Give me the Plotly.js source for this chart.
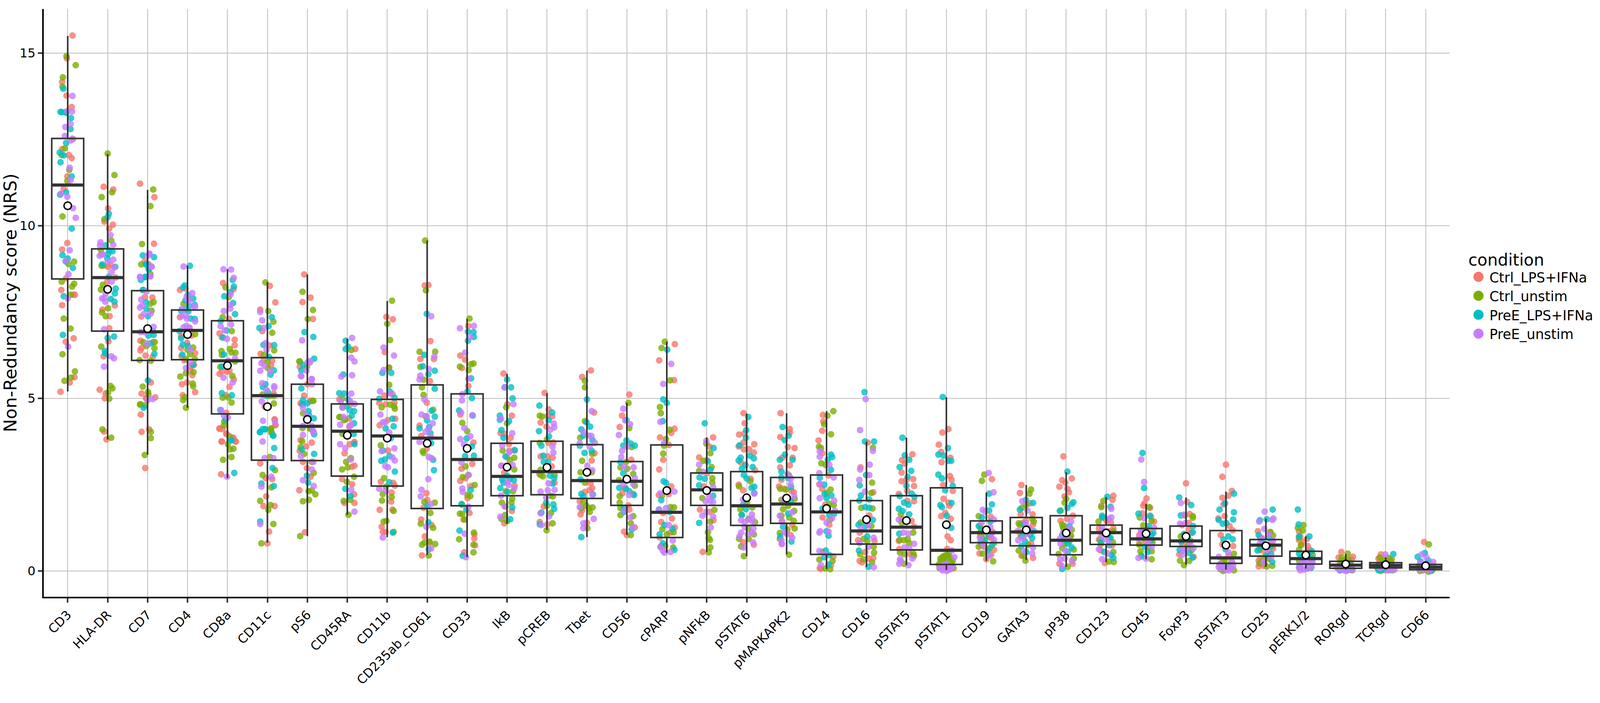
<!DOCTYPE html>
<html><head><meta charset="utf-8"><script src="https://cdn.plot.ly/plotly-3.0.1.min.js"></script>
<style>html,body{margin:0;padding:0;background:#fff;overflow:hidden}</style></head><body><div id="c" style="width:4096px;height:1800px"></div>
<script>
const markers=["CD3","HLA-DR","CD7","CD4","CD8a","CD11c","pS6","CD45RA","CD11b","CD235ab_CD61","CD33","IkB","pCREB","Tbet","CD56","cPARP","pNFkB","pSTAT6","pMAPKAPK2","CD14","CD16","pSTAT5","pSTAT1","CD19","GATA3","pP38","CD123","CD45","FoxP3","pSTAT3","CD25","pERK1/2","RORgd","TCRgd","CD66"];
const q3=[12.53,9.33,8.12,7.56,7.25,6.18,5.41,4.84,4.97,5.39,5.13,3.70,3.76,3.66,3.17,3.65,2.84,2.88,2.71,2.78,2.04,2.18,2.41,1.45,1.55,1.60,1.33,1.23,1.30,1.17,0.91,0.57,0.28,0.24,0.19];
const med=[11.18,8.50,6.93,6.97,6.09,5.08,4.19,4.05,3.91,3.85,3.23,2.74,2.88,2.62,2.60,1.70,2.35,1.89,1.94,1.71,1.16,1.27,0.60,1.11,1.13,0.89,1.11,0.93,0.87,0.38,0.75,0.36,0.17,0.16,0.11];
const q1=[8.46,6.95,6.10,6.12,4.55,3.21,3.20,2.75,2.46,1.81,1.89,2.18,2.21,2.10,1.90,0.97,1.90,1.32,1.38,0.48,0.78,0.61,0.19,0.82,0.73,0.47,0.77,0.75,0.71,0.22,0.43,0.20,0.08,0.09,0.04];
const whiskerHigh=[15.5,12.08,11.04,8.84,8.74,8.37,8.59,6.73,7.82,9.57,7.30,5.71,5.15,5.80,4.87,6.64,3.87,4.56,4.57,4.63,3.74,3.86,5.03,2.27,2.49,2.86,2.14,1.94,2.13,2.30,1.52,1.00,0.49,0.39,0.28];
const whiskerLow=[5.2,3.81,3.37,4.73,2.69,0.82,1.01,1.63,0.98,0.46,0.40,1.37,1.19,0.98,1.04,0.53,0.55,0.43,0.48,0.06,0.12,0.17,0.03,0.29,0.32,0.12,0.26,0.34,0.18,0.04,0.12,0.07,0.04,0.04,0.02];
const means=[10.58,8.16,7.02,6.85,5.95,4.76,4.39,3.93,3.85,3.70,3.55,3.01,3.00,2.86,2.66,2.33,2.33,2.12,2.11,1.81,1.49,1.46,1.34,1.19,1.19,1.10,1.10,1.08,1.00,0.75,0.73,0.46,0.20,0.18,0.15];
const conditions=["Ctrl_LPS+IFNa","Ctrl_unstim","PreE_LPS+IFNa","PreE_unstim"];
const colors=["#F8766D","#7CAE00","#00BFC4","#C77CFF"];
// each marker: flat pairs of (jitter in % of a category width, NRS value)
const ctrlLps=[
[12,15.51,-2,14.85,-14,14.17,-3,13.77,10,13.44,12,12.52,-14,12.22,3,12.05,10,11.96,-1,11.43,-10,11.07,-1,9.5,-14,9.31,-4,8.48,-16,8.14,14,8.0,18,8.0,-14,7.7,15,6.74,-5,6.64,17,5.61,5,5.46,-18,5.19],
[-10,11.13,14,11.05,1,10.5,-8,10.12,13,10.03,4,9.92,-15,9.17,7,8.87,1,8.81,20,8.5,-1,8.38,18,7.69,-13,7.57,5,7.38,4,7.03,2,6.65,-10,6.22,-20,5.25,-5,5.14,-7,5.0,-9,4.04,-3,3.81],
[-19,11.22,17,10.83,16,9.48,-7,8.97,2,8.89,-7,7.93,12,7.92,-16,7.37,-18,6.67,14,6.63,-15,6.46,-18,6.39,13,6.2,-5,6.24,8,5.46,-15,5.14,-3,5.01,19,5.03,-4,5.0,-17,4.53,-15,4.03,4,4.1,-6,2.98],
[-5,8.18,-19,8.14,-19,7.35,4,7.03,-16,6.8,10,6.82,-1,6.61,-16,6.46,19,6.31,-15,6.22,-8,6.1,16,5.97,8,5.92,7,5.8,12,5.67,-1,5.46,-14,5.41,-12,5.09,19,5.18],
[-11,8.34,15,8.16,4,7.3,-20,6.88,-14,6.77,18,6.7,18,6.54,-1,5.77,5,5.8,-20,5.71,-14,5.78,16,5.55,5,5.33,-4,5.09,-3,4.58,-20,4.12,-12,4.11,-2,3.97,14,3.86,-14,3.75,21,3.75,-20,4.13,-3,3.97,15,3.85,20,3.75,-15,3.75,-16,2.8],
[6,8.26,20,7.78,-18,7.57,-13,6.95,6,6.53,-17,6.29,-10,6.09,12,6.09,9,5.95,16,5.14,-7,4.76,18,4.39,20,4.22,18,4.39,20,4.23,-18,3.12,-4,2.69,12,2.66,-3,2.16,-10,1.88,18,1.88,4,1.14,0,0.8],
[-8,8.59,8,7.92,-12,7.79,14,7.3,-19,5.92,0,5.41,-8,5.08,8,4.92,-14,4.84,-17,4.86,8,4.93,-17,3.79,-3,3.61,11,3.72,-11,3.16,-1,2.98,8,2.73,-20,2.34,-6,1.12,-19,3.48],
[20,6.43,-20,4.97,9,4.84,5,4.42,5,4.18,17,3.71,6,3.67,18,3.74,-7,3.41,18,3.05,12,3.02,-13,2.66,17,2.22,-7,1.97,18,1.97,12,2.51],
[-2,7.36,14,7.29,-6,6.34,5,5.89,13,5.13,-7,5.08,-20,4.87,-4,4.83,18,4.88,20,4.41,1,4.37,-19,4.22,2,3.49,-16,2.58,15,2.55,19,2.47,11,2.27,10,2.01,-19,1.77,13,1.78,-14,1.28,-4,1.13,-11,1.13],
[-6,8.27,3,8.28,8,6.66,-17,6.14,17,6.14,7,5.5,-1,4.88,-19,4.21,-15,3.91,-1,3.55,-2,2.25,0,2.06,-9,1.83,-15,1.49,11,1.33,-6,1.0,6,0.82,-13,0.45],
[3,7.1,-17,6.24,-5,6.12,-13,5.88,3,5.36,-17,4.53,16,3.72,13,3.1,-14,2.96,-17,2.61,-4,2.69,9,2.46,1,2.11,6,1.68,-9,1.49,18,1.06,18,0.94,20,0.74,-7,0.54],
[-9,5.72,1,4.83,12,4.5,-16,3.99,-7,3.97,9,3.86,5,3.68,6,3.48,19,3.49,0,3.3,-14,3.05,-7,2.85,19,2.47,-7,1.38,12,1.74],
[-6,5.16,4,4.68,2,4.5,13,4.48,-16,4.3,-1,4.18,16,3.72,4,3.71,-16,3.32,2,3.32,14,3.28,12,3.03,-19,2.81,19,2.56,-8,1.87,1,1.35,-18,1.42],
[10,5.81,-12,5.62,18,4.59,12,3.2,19,3.41,9,2.54,13,2.4,-5,2.29,7,2.34,-16,1.64,-18,2.02,0,1.4,-12,1.76],
[6,5.11,-12,4.5,-18,4.17,11,3.22,-11,2.25,16,2.23,4,1.9,6,1.78,20,1.26,-7,1.14,0,1.04,-5,2.4],
[20,6.57,-19,6.1,18,5.53,19,4.12,11,4.0,-17,3.87,5,3.65,-9,3.22,-19,2.94,11,2.45,-20,2.2,5,2.23,-9,1.68,13,1.52,-14,1.42,20,1.26,-18,0.97,9,1.11],
[16,3.87,7,3.6,-19,3.29,0,3.21,1,2.83,-7,2.45,2,2.29,-17,1.78,7,1.71,17,1.47,-10,0.55],
[-8,4.57,-5,4.28,-19,3.95,-6,3.98,-8,3.72,19,3.67,-20,3.61,-7,3.52,6,3.53,18,3.43,-14,3.14,21,2.92,10,2.67,-20,2.5,-9,2.34,-9,0.83,18,0.76],
[-15,4.57,8,4.11,8,4.01,-16,3.88,20,3.56,3,3.59,15,3.28,-11,3.28,8,3.06,-16,3.0,-13,2.64,-19,2.45,-7,2.38,18,2.28,12,2.32,14,1.34,-12,1.45,10,1.04,-12,0.78],
[-9,4.52,-8,4.33,-11,4.06,-20,3.78,-11,3.41,5,2.77,-18,2.51,-11,2.38,-3,1.92,-10,1.55,7,1.34,17,0.42,-17,0.08,-14,0.06,11,0.17],
[3,3.72,-15,3.0,17,2.28,7,1.61,-17,1.11,-21,0.89,20,0.87,-3,0.55,17,0.38,-17,0.29,-11,0.25,5,0.36],
[15,3.38,-11,3.21,-4,3.11,-12,2.85,-12,2.6,0,2.64,17,2.66,19,2.46,2,2.32,-19,2.23,2,2.03,19,2.02,13,1.45,-12,1.51,19,1.28,-19,0.87,-18,0.63,9,0.49],
[5,4.11,-10,4.01,-19,3.66,-13,3.45,10,3.28,-12,3.15,9,2.75,13,2.64,-8,2.49,16,2.32,-7,2.09,5,1.98,8,1.89,-3,1.68,-13,1.59,11,1.51,3,1.0,11,0.89,2,0.64],
[14,2.66,11,1.57,-16,1.1,16,1.13,-16,0.98,12,0.96,-17,0.51,-6,0.7,19,0.61,12,0.47,0,0.34,-8,0.85,5,1.0,-12,0.75],
[-12,2.49,-16,2.26,9,1.96,-14,1.64,16,1.64,-1,1.45,17,1.34,-16,1.13,-12,0.44,17,0.38,-3,1.08,6,1.25,-8,1.4,12,0.8],
[-7,3.32,14,2.68,-10,2.63,-2,2.56,-17,2.44,3,2.38,7,2.28,-4,2.16,17,1.6,2,1.51,-14,1.45,16,0.21,-17,0.21,-5,1.3,10,1.0],
[18,2.18,16,2.06,-12,1.89,1,1.45,-18,1.23,18,1.23,-18,0.91,15,0.74,-3,0.23,-8,1.55,6,1.15,12,1.4,-14,0.6],
[1,2.1,-4,1.96,-7,1.89,10,1.83,-9,1.67,12,1.57,20,1.43,-17,1.04,-2,0.83,-17,0.78,5,1.2,-10,1.1,14,0.9],
[0,2.54,3,2.0,9,1.65,7,1.39,-10,1.33,7,1.2,-10,0.8,-17,0.48,19,0.41,-4,0.95,5,0.7,14,1.1],
[0,3.08,-9,2.73,15,2.32,6,2.18,-9,2.12,-6,1.93,-3,1.59,-19,1.52,9,1.3,17,1.18,-13,1.04,-9,0.77,18,0.72,-5,0.3,8,0.45,-14,0.2],
[-20,1.15,11,1.11,-14,0.96,18,0.65,-14,0.37,-18,0.13,-6,0.15,6,0.37,-8,0.8,5,0.55,-18,0.3,14,0.85,-3,0.2,-12,0.6],
[-17,1.15,3,0.93,-12,0.76,5,0.72,10,0.61,-14,1.0,-6,0.85,-17,0.9,3,0.55,13,0.3,-10,0.35],
[-11,0.55,18,0.41,-18,0.39,15,0.33,-15,0.2,5,0.28,12,0.22,-6,0.3,16,0.05,-12,0.03,8,0.15,-4,0.1],
[-12,0.48,-18,0.36,10,0.33,0,0.02,-15,0.28,-6,0.38,4,0.2,13,0.27,-10,0.08,8,0.05,17,0.1,-18,0.18],
[-4,0.84,19,0.15,-8,0.09,2,0.18,-14,0.12,11,0.04,-6,0.02,15,0.08,-17,0.15,7,0.2]];
const ctrlUnstim=[
[-3,14.91,20,14.65,-12,14.3,-13,14.03,-6,13.29,-7,12.24,-15,12.05,4,11.62,-1,11.3,-13,10.27,16,8.96,2,8.89,-15,8.38,16,8.32,11,8.24,7,8.0,-10,7.31,7,7.02,-13,6.28,18,5.78,8,5.6,-8,5.51],
[0,12.09,17,11.47,11,10.97,-15,10.83,-8,10.19,9,9.57,-17,9.3,-15,8.84,-10,8.85,-12,8.29,-17,8.15,1,7.61,-14,7.49,-5,7.38,-16,6.5,7,5.36,12,5.29,1,5.17,4,4.99,-13,4.1,9,3.86],
[14,11.05,7,10.57,-14,9.47,-16,8.88,7,8.6,7,7.74,15,7.79,10,7.54,-11,6.63,-3,6.52,18,6.63,17,6.45,-20,6.11,8,6.09,-12,5.34,1,5.19,2,5.12,-19,4.82,-8,4.8,-18,4.83,8,4.03,8,3.85,-7,3.36],
[-10,7.74,19,6.86,14,6.47,0,6.41,7,6.28,-4,6.14,18,6.14,-4,5.73,15,5.76,-18,5.63,13,5.43,14,5.35,-7,5.03,-11,4.95,-4,4.73],
[-5,8.22,3,7.93,-12,7.35,11,6.95,-15,6.37,6,6.43,10,6.33,20,6.32,-14,6.26,19,6.07,-18,5.91,12,5.65,2,5.03,-12,5.02,10,4.88,-8,4.33,-9,4.22,5,3.9,1,3.67,15,3.54,7,3.52,10,3.3,-11,3.22],
[-5,8.36,2,7.53,15,7.22,12,6.9,17,6.39,-9,6.26,0,6.05,1,5.88,-12,5.11,6,5.07,16,5.07,16,4.85,9,4.13,10,4.01,9,4.1,11,4.0,6,3.3,19,2.92,-12,2.78,10,2.42,-18,2.03,8,1.91,2,1.77,15,1.36,-15,0.8],
[-12,8.09,14,7.56,1,7.3,-20,6.07,-1,5.92,14,4.93,-12,4.14,7,4.12,-19,6.07,15,4.93,-11,4.57,8,4.13,-13,3.76,-17,3.59,-8,3.39,11,3.16,16,2.84,3,2.31,11,2.33,20,2.22,-11,2.02,4,2.06,-18,1.01],
[10,6.4,-13,4.99,-12,4.75,-17,4.46,-8,4.37,-12,3.97,-20,4.46,-5,4.39,-3,3.16,-13,2.94,1,3.0,9,3.27,17,2.73,-1,2.58,-9,2.03,8,2.06,3,1.63],
[12,7.83,0,7.16,7,6.69,4,5.89,5,5.39,-14,4.74,7,4.82,17,4.77,19,4.7,-16,3.64,-8,2.69,-3,2.44,-11,2.23,-13,2.04,11,2.14,16,1.74,-9,1.43,-2,1.45,16,1.13],
[-5,9.57,-3,8.13,-19,6.35,20,6.35,-17,5.91,-9,5.54,-13,5.32,-9,5.1,15,4.67,-4,4.48,-9,3.42,-11,3.47,-7,2.0,19,1.98,8,1.68,-16,1.37,15,1.25,6,0.85,-7,0.82,-13,0.76,20,0.78,4,0.45],
[6,7.31,10,5.99,16,6.01,4,5.82,-18,5.92,-12,4.29,0,4.05,-4,3.03,-11,2.72,3,2.78,19,2.49,1,2.2,8,2.17,-13,1.92,-18,1.66,-12,1.65,-6,1.49,17,1.11,-20,0.92,16,0.76,16,0.54],
[-2,4.74,0,4.28,-11,3.49,18,3.28,7,3.21,18,2.94,-3,2.31,15,2.31,-13,1.98,13,2.1,11,1.98,-4,1.87,-5,1.62,-14,1.51,0,1.44],
[-18,4.5,-12,4.47,0,3.81,-18,3.71,-16,2.93,-16,2.78,-10,2.74,19,2.78,8,2.18,15,2.16,0,1.89,10,1.68,14,1.38,-1,1.18],
[-5,5.51,-5,5.32,-5,4.34,-17,3.86,13,3.39,-12,3.19,-16,2.86,12,2.86,-5,2.56,-9,2.0,-14,1.83,14,1.84,5,1.82,-1,1.89,7,1.71,1,1.24],
[4,4.87,6,4.14,12,3.59,-2,3.16,-16,3.0,1,2.96,16,2.81,-20,2.63,20,2.47,-18,2.17,-18,1.98,-16,1.82,-16,1.62,16,1.59,10,1.38,10,1.04],
[-5,6.64,-13,6.46,8,5.52,-17,4.75,-15,4.57,7,4.09,-2,3.82,-7,3.63,-9,3.4,-12,2.19,9,1.85,18,1.84,-11,1.21,17,1.12,0,1.06,-15,0.71,16,0.68,-4,0.73],
[-1,3.69,9,3.41,-9,3.19,12,3.01,-19,2.9,14,2.69,14,2.56,-11,2.11,19,1.77,9,1.43,3,1.12,5,0.95,8,0.9,9,0.68,5,0.54],
[-19,2.45,9,2.6,1,1.98,14,1.84,-16,1.79,-13,1.63,5,1.51,21,1.41,5,1.21,18,1.06,-19,0.93,5,0.93,-14,0.71,-7,0.43],
[6,2.77,-16,2.38,-2,2.36,20,2.09,-13,2.06,4,1.89,-9,1.79,19,1.74,-13,1.6,7,1.55,18,1.45,20,1.23,2,1.2,-17,1.1,-17,0.93,6,0.47],
[17,4.63,2,4.5,-6,4.25,11,3.96,-19,3.6,-14,3.56,-13,3.12,-2,3.07,10,2.36,0,2.26,7,1.94,18,1.91,9,1.49,-10,0.55,-18,0.33,15,0.29,-3,0.07,9,0.05],
[16,3.57,14,2.56,12,2.26,-13,1.83,15,1.81,-15,1.4,12,1.3,-7,0.93,2,0.87,18,0.7,19,0.53,-16,0.49,-7,0.34,14,0.25],
[-14,1.64,-12,1.4,17,1.11,-17,0.9,-6,0.89,3,0.93,7,0.81,-16,0.53,17,0.51,19,0.44,-6,0.49,-6,0.21],
[-5,0.44,5,0.42,12,0.36,-15,0.36,1,0.47,16,0.29,-19,0.19,-17,0.08,18,0.08,-7,0.32,9,0.25,1,0.17,-10,0.4,6,0.5,13,0.22,-3,0.28,-14,0.27],
[-5,2.79,-11,2.61,-19,1.59,-16,1.3,-14,1.23,-10,0.94,-19,0.7,-9,0.5,8,0.66,19,0.81,17,0.28,4,1.08,-6,1.15,-12,1.05],
[12,2.36,8,2.24,-11,1.83,0,1.92,15,1.51,19,1.43,-19,1.38,-16,1.33,9,1.08,-19,0.59,-8,0.44,-2,0.3,5,0.75,-14,1.0],
[0,2.09,-4,1.98,-14,1.75,-10,1.34,-8,1.27,14,1.19,12,1.02,-4,0.79,19,0.62,-19,0.49,19,0.36,4,0.12,-10,0.66,-6,1.2,8,0.85],
[-7,2.03,-12,1.85,-19,1.43,18,1.15,-14,0.77,17,0.83,18,0.55,7,0.27,19,0.26,-10,1.1,8,0.95,-15,0.9],
[8,1.85,-16,1.55,14,1.45,-7,1.32,16,0.83,-17,0.76,14,0.57,-14,0.57,14,0.34,-8,0.95,6,0.7,-12,0.45],
[-3,1.61,17,1.59,-13,1.0,12,0.87,-15,0.3,8,0.29,-5,0.17,17,1.54,-6,1.05,5,0.75,14,0.6],
[20,0.5,-3,0.33,-16,0.17,20,0.02,-7,0.0,14,0.28,4,0.17,-10,0.25,10,0.1,-14,0.05,3,0.06],
[11,1.13,18,1.03,-16,0.63,-1,0.46,-16,0.22,2,0.13,16,0.15,-12,0.95,8,0.35,-8,0.3,14,0.7],
[-6,1.33,-20,1.25,-8,1.17,-17,0.96,-17,0.61,17,0.46,-17,0.3,-12,0.75,6,0.4,-14,0.1],
[5,0.5,-10,0.39,7,0.33,-15,0.07,-5,0.25,10,0.2,-12,0.3,14,0.1,2,0.05,-8,0.13,16,0.02],
[-15,0.39,15,0.33,-12,0.0,-22,0.11,-5,0.3,6,0.38,-10,0.2,12,0.15,-18,0.05,2,0.12,17,0.02],
[8,0.77,-14,0.0,7,-0.02,-5,0.15,3,0.05,12,0.11,-10,0.08,-16,0.06,17,0.03]];
const preeLps=[
[-11,13.97,-18,13.3,-15,13.29,-3,13.27,8,13.12,7,12.8,-4,12.4,-20,12.12,-10,12.04,-18,11.84,10,11.43,-4,10.97,-19,10.9,10,9.92,-13,9.15,0,9.05,-5,8.97,13,8.78,-10,7.96,-12,6.84],
[3,10.35,0,10.25,-5,9.43,4,9.29,12,9.26,1,9.18,-1,9.06,-14,8.88,19,8.81,3,8.52,20,8.18,18,8.04,8,7.88,17,7.8,0,6.75,16,6.79,-7,6.37,-6,6.3],
[-12,9.14,16,9.09,-3,8.89,3,8.75,-6,8.52,-17,8.43,-11,8.14,-4,8.88,3,8.74,-6,8.51,-12,8.14,-4,7.78,-3,7.59,1,7.38,13,6.95,2,6.82,15,6.84,7,6.59,17,6.29,1,5.52,-10,4.73],
[6,8.84,-7,8.27,-11,8.21,1,8.0,14,7.89,-5,7.84,18,7.71,4,7.67,-16,7.54,-5,7.57,2,7.52,8,7.31,18,7.3,-20,6.95,-16,6.74,-12,6.56,1,6.52,-13,6.27,14,5.97],
[13,8.43,16,8.24,7,8.08,-8,7.96,14,7.76,19,7.44,-17,7.24,-2,6.97,-11,6.76,-9,6.27,-14,5.92,-14,5.15,11,5.09,-18,4.66,-5,4.39,10,3.79,10,3.79,17,2.84],
[11,7.35,3,7.09,-20,7.04,-10,6.55,17,6.54,4,6.2,16,5.81,8,5.69,-5,5.41,-11,5.33,1,5.18,-2,5.07,-12,4.11,-5,4.1,-19,4.02,14,3.92,-18,4.03,-6,4.11,15,3.92,17,3.56,13,2.98,16,2.46,-15,2.53,-18,1.43],
[-7,6.92,15,6.78,17,6.15,-10,5.97,-15,5.81,-15,5.29,-11,4.95,-12,4.82,0,4.86,3,4.63,4,4.52,16,4.42,15,4.03,17,3.96,17,3.39,-14,3.52,-1,2.76,2,2.56],
[-4,6.67,-4,6.43,2,6.5,-10,5.69,-20,5.15,-8,5.14,2,4.97,-2,4.77,6,4.66,17,4.63,11,4.5,17,4.28,16,3.97,18,3.67,-5,2.38,8,2.17],
[10,5.74,-12,5.74,6,5.2,-20,4.99,18,5.02,13,4.41,16,4.19,-4,4.13,9,3.85,-11,3.49,6,3.33,-15,3.19,-6,3.23,19,2.88,5,2.57,14,1.11],
[-1,7.45,-7,6.26,-11,5.93,3,5.7,19,5.8,19,5.28,11,4.64,19,4.47,0,4.36,-19,4.13,5,4.17,8,3.99,10,3.7,15,3.22,17,2.92,1,1.89,3,1.41,4,0.63],
[2,6.93,16,6.92,17,6.78,2,6.67,10,5.58,1,5.2,12,5.01,-20,4.65,14,4.5,-1,3.84,12,3.61,-5,3.33,17,3.34,9,2.35,-14,1.94,-2,1.78,-19,1.17,-11,0.44],
[0,5.55,-6,5.32,10,5.32,14,5.0,-18,4.5,-18,4.38,5,4.34,-14,4.08,-9,3.86,19,3.5,-4,3.32,0,2.76,-12,2.65,7,2.67,17,2.63,-9,2.56,-17,2.4,1,2.29,13,1.84,8,1.5],
[-19,4.79,13,4.59,4,4.37,-20,4.05,5,3.9,-14,3.63,-9,3.34,-8,3.16,3,3.16,8,2.76,18,2.69,14,2.53,-2,1.98,16,1.93,18,1.8,-14,1.69,-18,1.35],
[0,4.97,-1,4.31,8,4.18,-14,4.1,-9,3.92,14,3.79,-18,3.63,12,3.48,-6,3.42,-16,2.65,-14,2.23,15,2.22,-9,2.16,-14,0.98],
[-1,4.37,-1,3.78,-9,3.63,10,3.69,20,3.63,-16,3.16,-9,2.83,-19,2.41,-2,2.38,6,2.31,18,2.2,-8,1.82,-7,1.71,12,1.2],
[1,6.41,-9,4.97,0,4.87,-10,4.34,-8,2.6,-2,2.55,-14,2.05,-19,1.78,7,1.71,-6,1.33,14,1.22,-18,1.06,-10,0.8,19,0.61],
[-5,4.28,17,3.56,3,3.17,9,2.93,-18,2.71,-5,2.67,-19,2.48,16,2.18,-19,1.39],
[4,4.46,-1,4.08,-2,3.86,-18,3.64,-15,3.28,-20,3.2,8,3.34,18,3.26,-3,3.07,15,3.01,-12,2.96,-7,2.78,0,2.68,19,2.44,12,2.41,19,2.26,-9,1.92,-2,1.79,-12,1.62],
[-10,4.17,5,3.92,-5,3.79,-17,3.22,-4,3.37,15,3.22,-13,2.88,-13,2.71,4,2.69,11,2.43,10,2.02,4,1.66,-9,1.28,12,0.85,-16,1.0],
[11,3.37,14,3.3,3,3.22,11,2.93,-17,2.7,-6,2.5,-5,2.23,12,2.19,0,2.11,-10,1.81,7,1.62,19,1.66,0,1.15,5,1.02,-2,0.59,7,0.46,-6,0.4,5,0.19],
[-5,5.18,-4,3.75,19,3.75,-1,2.78,-17,2.48,-14,2.19,-18,2.04,7,2.07,-3,1.85,7,1.83,16,1.48,-20,1.34,-3,1.3,2,1.0,-19,0.59,5,0.12],
[-10,3.86,-4,3.35,7,3.22,-17,3.01,12,2.9,3,2.73,0,2.47,-17,2.17,13,2.24,20,2.15,-6,1.98,5,1.92,-19,1.8,-10,1.74,7,1.64,-18,1.08],
[-9,5.04,4,3.56,-20,3.37,-7,3.34,5,3.19,12,3.19,-20,2.79,-11,2.68,16,2.47,-3,2.34,-15,1.91,-11,1.85,13,1.97,1,1.6,12,1.25],
[7,2.24,14,1.93,7,1.75,-11,1.55,-19,1.3,10,1.43,-10,1.15,8,1.05,-3,0.9,14,0.75,-14,0.85,4,0.6],
[-1,2.06,17,1.97,-16,1.78,19,1.15,-10,1.0,15,0.95,-3,0.85,-12,0.72,0,0.55,-6,1.35,6,1.2,10,1.05],
[3,2.88,18,1.99,14,1.94,-16,1.74,3,1.83,-10,1.04,4,0.79,14,0.68,4,0.55,-10,0.06,8,1.3,-6,0.9],
[3,2.15,11,1.86,-10,1.6,-10,1.55,11,0.96,-5,0.55,13,0.46,18,0.38,-6,1.15,4,1.05,-12,0.85,8,0.75],
[-9,3.42,-5,2.4,-19,1.66,10,1.6,7,1.3,18,1.1,4,0.55,-11,0.42,-8,1.15,12,0.9,-3,0.7,14,1.05],
[-17,2.13,13,1.91,-13,1.61,18,1.3,17,1.12,-16,0.61,8,0.52,17,0.39,-5,1.07,-12,0.85,5,0.95],
[20,2.24,-2,1.96,-16,1.78,20,1.7,18,1.49,-18,1.48,-8,1.37,1,1.39,6,1.0,17,0.92,-6,0.91,-1,0.63,-12,0.15,8,0.12,-4,0.05],
[17,1.78,-15,1.47,2,1.5,-18,1.04,8,0.96,13,0.5,16,0.26,-21,0.59,-6,0.75,10,0.72,-10,0.9,3,0.45,-14,0.7],
[-20,1.78,-18,1.35,9,1.0,-17,1.0,-17,0.5,15,0.57,13,0.09,3,0.07,-12,0.4,6,0.45,-6,0.3,17,0.35,-16,0.12],
[-15,0.02,-2,0.09,12,0.11,-8,0.05,5,0.03,15,0.05,-12,0.15,3,0.14,9,0.2],
[19,0.49,-7,0.04,-17,0.15,-12,0.07,4,0.1,10,0.03,-3,0.22,15,0.18,-18,0.02],
[-2,0.52,-20,0.41,-13,0.28,7,0.3,14,0.0,-8,0.15,4,0.12,-16,0.1,12,0.18,2,0.22]];
const preeUnstim=[
[12,13.76,11,13.31,-1,13.32,7,12.95,-6,12.86,-7,12.6,13,12.51,7,12.47,5,11.68,7,11.32,-1,10.84,-17,10.93,13,10.51,20,10.23,5,9.29,-5,8.98,2,8.6,0,7.9,1,6.5],
[7,9.73,-18,9.52,-19,9.43,14,9.45,-20,9.13,-12,9.17,14,9.02,0,8.95,16,8.79,10,8.65,10,8.38,-5,8.04,-14,7.89,-9,7.91,-6,7.8,-9,7.0,9,6.22,16,6.16,-9,5.92],
[4,9.18,10,8.82,-19,8.52,6,8.55,5,9.19,0,9.13,10,8.81,-19,8.51,7,8.53,-3,8.1,-16,7.86,-13,7.69,-19,7.63,-9,7.44,8,7.46,15,7.07,-17,6.92,-6,6.91,-1,6.59,0,4.95,13,4.98],
[-10,8.82,12,8.05,-2,7.95,5,7.84,15,7.68,19,7.65,-15,7.39,-4,7.4,-2,7.31,19,7.23,-10,7.06,-3,7.1,5,7.05,7,6.42,-4,5.88,8,6.05,-14,7.59,0,7.86],
[-10,8.74,9,8.73,16,8.49,8,8.01,7,7.71,7,7.6,-9,7.53,-17,7.09,9,7.14,-7,6.97,-1,6.72,19,6.16,2,6.09,-10,5.6,13,5.46,-16,4.66,-9,4.5,1,4.45,-1,2.73],
[-18,7.5,-13,7.26,-9,7.04,-4,6.6,-2,6.41,-15,6.02,-7,5.94,-18,5.8,8,5.78,-13,5.44,17,5.35,17,5.31,-2,5.24,-14,4.91,-11,4.35,19,4.31,-12,3.75,10,2.73,-15,2.44,-7,3.27,15,3.27,-18,1.36],
[-13,6.68,1,6.05,7,6.04,-2,5.8,-15,5.64,11,5.56,12,5.41,-11,4.73,-3,4.52,-11,4.2,11,4.2,15,4.05,-11,3.94,5,6.08,-16,5.65,11,5.56,15,4.03,-16,3.32,15,3.16,11,2.94,-11,2.63,16,2.46],
[12,6.75,10,6.18,18,6.07,-15,5.63,12,5.67,10,5.14,-16,4.92,7,4.92,18,4.84,-12,4.73,-9,4.46,-18,4.24,7,4.2,10,4.24,-5,3.56,9,3.23,10,2.35,18,1.72,-18,3.67],
[-9,6.47,17,6.24,-9,5.82,-18,5.2,7,5.14,-17,4.53,-5,4.31,-11,4.31,5,4.01,-14,3.47,18,3.55,13,3.29,19,3.2,-5,3.04,2,3.0,-20,2.38,-4,2.32,-11,0.97],
[10,7.38,18,6.21,4,5.85,-17,5.66,-19,5.55,-7,4.97,-14,4.53,-1,4.48,14,4.28,3,4.11,-4,4.03,10,3.88,-19,3.74,4,3.3,11,3.27,3,2.66,-14,2.35,-16,2.16,10,1.94,-2,1.28,10,0.65],
[-18,7.03,17,7.1,8,6.77,-5,6.32,3,5.57,-12,5.12,-13,4.94,-15,4.59,13,4.51,-7,4.14,8,3.9,-17,3.82,-8,3.67,-14,3.15,4,2.78,-12,2.39,-11,2.29,3,1.86,-6,1.08,-3,0.4],
[-6,5.32,16,4.83,-15,4.41,13,3.99,-12,3.63,6,3.44,-14,3.05,14,3.07,1,2.58,4,2.49,18,2.39,-15,2.18,-6,1.87,-17,1.57],
[17,4.27,18,4.16,8,4.09,14,3.6,16,3.43,4,2.54,-16,2.3,19,2.35,2,2.34,-2,2.13,-16,1.67,5,1.58,-14,1.33],
[12,4.63,-9,4.03,5,3.92,11,3.91,20,3.71,-18,3.7,7,3.61,1,3.05,13,2.92,-18,1.85,14,2.2,17,1.51,-9,1.38,-9,1.24],
[-9,4.7,-4,4.36,8,4.25,-20,3.94,0,3.6,-12,3.48,-14,3.3,17,3.0,-7,3.03,20,2.69,-9,2.52,16,2.52,6,2.2,-7,1.73,9,1.55,15,1.26],
[11,6.0,-9,5.42,-16,4.32,-7,3.7,19,2.3,-16,2.25,-2,1.82,-20,1.78,5,1.33,15,0.88,-16,0.69,9,0.55,-10,0.59,-6,0.53],
[-1,3.77,-19,3.08,-9,2.87,16,2.43,7,2.16,-3,2.02,9,2.02,16,2.0,-11,1.6,-1,1.71,16,1.58,10,1.26],
[19,2.24,-9,2.07,13,1.64,14,1.51,-14,1.47,4,1.49,-5,1.42,15,1.43,-5,1.27,17,1.23,-14,1.11,14,1.1,-18,1.0,3,1.06,16,0.83,-8,0.68],
[2,2.81,11,2.68,10,2.51,19,2.17,-7,2.07,-17,1.6,14,1.7,-11,1.42,-5,1.13,0,1.08,14,0.96,-13,0.89,-12,0.78],
[-17,3.47,-17,3.31,7,3.07,-18,2.83,18,2.71,-16,2.52,-17,2.11,19,2.04,21,1.74,14,1.53,0,1.4,-16,1.15,-18,1.11,5,1.14,-18,0.58,-4,0.49,-14,0.17],
[-2,4.98,-16,4.08,16,3.48,8,3.08,-16,2.94,7,2.78,-18,2.64,-4,2.3,5,1.32,-14,1.22,18,0.96,-17,0.81,5,0.7,18,0.11],
[-19,1.49,-8,1.11,5,1.08,19,0.79,-5,0.68,7,0.66,-16,0.34,15,0.36,-18,0.21,5,0.17,-14,0.29],
[14,0.59,1,0.21,8,0.08,-7,0.06,1,0.0,16,0.12,5,0.04,-3,0.1,-13,0.15,20,0.4,-10,0.02,11,0.05,-17,0.1,-4,0.18,6,0.14],
[6,2.84,18,2.28,-9,1.77,-3,1.72,19,1.49,10,1.27,19,0.91,-7,0.74,8,0.44,-12,1.4,4,1.19,-14,0.95,12,1.05],
[-10,2.02,3,1.75,-22,1.15,-20,0.89,-1,1.38,17,0.68,-5,0.57,15,0.51,5,1.08,-8,0.95,10,1.2],
[12,1.43,8,1.23,-16,0.93,-14,0.79,-2,0.59,-15,0.34,14,0.29,-4,0.36,-11,0.15,3,0.95,-8,1.1],
[13,1.8,13,1.55,7,1.51,-10,1.25,-1,0.92,-18,0.63,3,0.51,-10,0.34,-4,1.15,8,0.8,-12,1.0],
[-12,3.23,-5,2.58,-5,1.53,20,1.25,-13,1.17,-19,0.93,0,0.36,-19,0.38,-10,1.05,6,0.85,14,0.7],
[-13,1.97,-5,1.63,-15,1.37,-1,1.39,19,0.67,-10,0.46,0,0.63,-8,0.59,-4,0.95,10,0.8],
[6,0.54,18,0.15,-18,0.11,-13,0.07,1,0.04,14,0.07,-6,0.09,7,0.02,-18,0.41,-14,0.2,3,0.12,16,0.25],
[-3,1.72,-17,1.43,16,1.48,19,1.52,-4,1.22,18,0.87,-6,0.26,-10,0.95,8,1.05,-15,0.8,3,0.6,13,0.4],
[-17,0.09,-4,0.04,5,0.17,17,0.24,-12,0.2,8,0.08,-14,0.02,14,0.12,-8,0.3,2,0.25],
[0,0.0,17,0.04,-22,0.09,5,0.02,-16,0.04,10,0.08,-6,0.03,13,0.13,-10,0.12,3,0.1],
[-1,0.48,10,0.07,22,0.04,17,0.11,6,0.02,13,0.05,19,0.09,-5,0.12,-14,0.08,2,0.15],
[2,0.39,-10,0.48,19,0.26,-5,0.04,14,0.09,-12,0.25,6,0.18,-16,0.05,10,0.02,-2,0.12,16,0.15]];
const idx=markers.map((_,i)=>i);
const series=[ctrlLps,ctrlUnstim,preeLps,preeUnstim];
const traces=conditions.map((n,k)=>{const x=[],y=[];series[k].forEach((p,m)=>{for(let i=0;i<p.length;i+=2){x.push(m+p[i]/100);y.push(p[i+1]);}});
 return {type:'scatter',mode:'markers',name:n,x:x,y:y,marker:{color:colors[k],size:17,opacity:0.8},xaxis:'x',yaxis:'y',hoverinfo:'skip'};});
traces.push({type:'box',x:idx,q1:q1,median:med,q3:q3,lowerfence:whiskerLow,upperfence:whiskerHigh,width:0.8,whiskerwidth:0,boxpoints:false,fillcolor:'rgba(0,0,0,0)',line:{color:'#333333',width:4},xaxis:'x2',yaxis:'y2',showlegend:false,hoverinfo:'skip'});
traces.push({type:'scatter',mode:'markers',x:idx,y:med,marker:{size:0.1,color:'#333'},error_x:{type:'constant',value:0.4,thickness:8,width:0,color:'#333333'},xaxis:'x2',yaxis:'y2',showlegend:false,hoverinfo:'skip'});
traces.push({type:'scatter',mode:'markers',x:idx,y:means,marker:{size:19,color:'#fff',line:{color:'#000',width:3.5}},xaxis:'x2',yaxis:'y2',showlegend:false,hoverinfo:'skip'});
const xr=[-0.6,34.6],yr=[-0.747,16.28];
const L=112,R=380,T=23,B=272,W=4096;
const layout={width:W,height:1800,paper_bgcolor:'#fff',plot_bgcolor:'#fff',margin:{l:L,r:R,t:T,b:B,pad:0},font:{family:'DejaVu Sans',color:'#000',size:32},showlegend:true,
xaxis:{range:xr,tickmode:'array',tickvals:idx,ticktext:markers,tickangle:-45,tickfont:{size:32,color:'#000'},ticks:'outside',ticklen:11,tickwidth:3.5,tickcolor:'#333',showgrid:true,gridcolor:'#bebebe',gridwidth:2,showline:true,linecolor:'#000',linewidth:3.5,zeroline:false},
yaxis:{range:yr,tickmode:'array',tickvals:[0,5,10,15],ticktext:['0','5','10','15'],tickfont:{size:32,color:'#000'},ticks:'outside',ticklen:11,tickwidth:3.5,tickcolor:'#333',showgrid:true,gridcolor:'#bebebe',gridwidth:2,showline:true,linecolor:'#000',linewidth:3.5,zeroline:false,title:{text:'Non-Redundancy score (NRS)',font:{size:45,color:'#000'},standoff:6}},
xaxis2:{range:xr,overlaying:'x',visible:false,anchor:'y2'},yaxis2:{range:yr,overlaying:'y',visible:false,anchor:'x2'},
legend:{x:(3762-L)/(W-L-R),y:0.60,xanchor:'left',yanchor:'top',font:{size:35},title:{text:'condition',font:{size:42}},itemsizing:'constant',bgcolor:'rgba(0,0,0,0)',traceorder:'normal',itemwidth:46}};
function fixLegend(){document.querySelectorAll('.legend .traces .legendpoints path.scatterpts').forEach(p=>{p.setAttribute('d','M13,0A13,13 0 1,1 0,-13A13,13 0 0,1 13,0Z');p.style.opacity=1;});}
Plotly.newPlot('c',traces,layout,{displayModeBar:false}).then(gd=>{fixLegend();gd.on('plotly_afterplot',fixLegend);});
</script></body></html>
